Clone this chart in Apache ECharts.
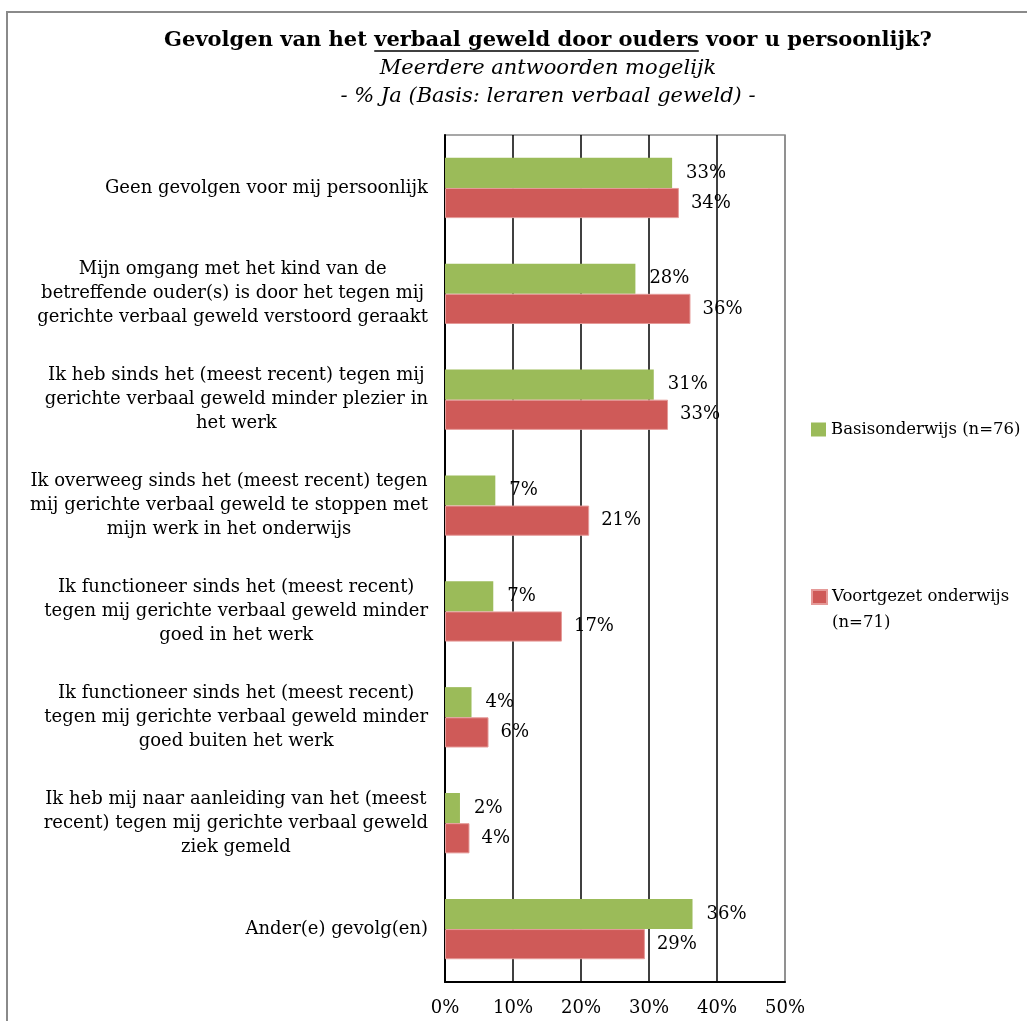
<!DOCTYPE html>
<html>
<head>
<meta charset="utf-8">
<script src="https://cdn.jsdelivr.net/npm/echarts@6/dist/echarts.min.js"></script>
<style>
html,body{margin:0;padding:0;background:#fff;}
#chart{width:1027px;height:1021px;}
</style>
</head>
<body>
<div id="chart"></div>
<script>
// ---- data ----
const categories = [
  'Geen gevolgen voor mij persoonlijk',
  'Mijn omgang met het kind van de\nbetreffende ouder(s) is door het tegen mij\ngerichte verbaal geweld verstoord geraakt',
  'Ik heb sinds het (meest recent) tegen mij\ngerichte verbaal geweld minder plezier in\nhet werk',
  'Ik overweeg sinds het (meest recent) tegen\nmij gerichte verbaal geweld te stoppen met\nmijn werk in het onderwijs',
  'Ik functioneer sinds het (meest recent)\ntegen mij gerichte verbaal geweld minder\ngoed in het werk',
  'Ik functioneer sinds het (meest recent)\ntegen mij gerichte verbaal geweld minder\ngoed buiten het werk',
  'Ik heb mij naar aanleiding van het (meest\nrecent) tegen mij gerichte verbaal geweld\nziek gemeld',
  'Ander(e) gevolg(en)'
];
const seriesNames = ['Basisonderwijs (n=76)', 'Voortgezet onderwijs (n=71)'];
const basisValues = [33.4, 28.0, 30.7, 7.4, 7.1, 3.9, 2.2, 36.4];
const voortgezetValues = [34.4, 36.1, 32.8, 21.2, 17.2, 6.4, 3.6, 29.4];
const xTicks = [0, 10, 20, 30, 40, 50];

const titleMain = 'Gevolgen van het verbaal geweld door ouders voor u persoonlijk?';
const titleUnderlined = 'verbaal geweld door ouders';
const subTitle = 'Meerdere antwoorden mogelijk\n- % Ja (Basis: leraren verbaal geweld) -';

// ---- chart ----
const FONT = '"DejaVu Serif", "Liberation Serif", serif';
const GREEN = '#9BBB59';
const RED = '#CF5A58';
const titleCenterX = 548;
const titleSize = 21;
const titlePad = 5;

const chart = echarts.init(document.getElementById('chart'));

// measure underline position
const ctx = document.createElement('canvas').getContext('2d');
ctx.font = 'bold ' + titleSize + 'px ' + FONT;
const fullW = ctx.measureText(titleMain).width;
const idx = titleMain.indexOf(titleUnderlined);
const preW = ctx.measureText(titleMain.slice(0, idx)).width;
const ulW = ctx.measureText(titleUnderlined).width;
const ulX1 = titleCenterX - fullW / 2 + preW;
const ulX2 = ulX1 + ulW;

const valueLabel = function (p) { return Math.round(p.value) + '%'; };

chart.setOption({
  backgroundColor: '#fff',
  animation: false,
  title: {
    text: titleMain,
    subtext: subTitle,
    left: titleCenterX - titlePad,
    textAlign: 'center',
    top: 25,
    itemGap: 4,
    textStyle: {fontFamily: FONT, fontWeight: 'bold', fontSize: titleSize, color: '#000'},
    subtextStyle: {fontFamily: FONT, fontStyle: 'italic', fontSize: 21, color: '#000', lineHeight: 28}
  },
  graphic: [
    {type: 'rect', shape: {x: 7, y: 12, width: 1100, height: 1100}, style: {fill: 'none', stroke: '#8a8a8a', lineWidth: 2}, silent: true},
    {type: 'line', shape: {x1: ulX1, y1: 51, x2: ulX2, y2: 51}, style: {stroke: '#000', lineWidth: 1.5}, silent: true}
  ],
  legend: [
    {
      data: [seriesNames[0]],
      orient: 'vertical',
      left: 806, top: 416,
      itemWidth: 15, itemHeight: 14,
      icon: 'rect',
      textStyle: {fontFamily: FONT, fontSize: 16.5, color: '#000'}
    },
    {
      data: [seriesNames[1]],
      orient: 'vertical',
      left: 806, top: 553,
      itemWidth: 15, itemHeight: 14,
      icon: 'rect',
      formatter: function (n) { return '\n' + n.replace(' (', '\n('); },
      textStyle: {fontFamily: FONT, fontSize: 16.5, color: '#000', lineHeight: 26}
    }
  ],
  grid: {
    left: 445, right: 242, top: 135, bottom: 39,
    show: true, borderColor: '#8a8a8a', borderWidth: 1.5, containLabel: false
  },
  xAxis: {
    type: 'value', min: xTicks[0], max: xTicks[xTicks.length - 1], interval: 10,
    axisLine: {show: true, lineStyle: {color: '#000', width: 2}},
    axisTick: {show: false},
    splitLine: {show: true, lineStyle: {color: ['#000', '#000', '#000', '#000', '#000', '#8a8a8a'], width: 1.5}},
    axisLabel: {formatter: '{value}%', fontFamily: FONT, fontSize: 18, color: '#000', margin: 17}
  },
  yAxis: {
    type: 'category', data: categories, inverse: true,
    axisLine: {show: true, lineStyle: {color: '#000', width: 2}},
    axisTick: {show: false},
    axisLabel: {
      margin: 17, fontFamily: FONT, fontSize: 18, color: '#000', lineHeight: 24,
      formatter: function (v) { return v.split('\n').map(function (l) { return '{c|' + l + '}'; }).join('\n'); },
      rich: {c: {align: 'center', fontFamily: FONT, fontSize: 18, color: '#000', lineHeight: 24}}
    }
  },
  series: [
    {
      name: seriesNames[0], type: 'bar', data: basisValues,
      itemStyle: {color: GREEN}, barGap: '0%', barCategoryGap: '43%',
      label: {show: true, position: 'right', distance: 14, formatter: valueLabel, fontFamily: FONT, fontSize: 18, color: '#000'}
    },
    {
      name: seriesNames[1], type: 'bar', data: voortgezetValues,
      itemStyle: {color: RED, borderColor: '#E59A98', borderWidth: 1}, barGap: '0%', barCategoryGap: '43%',
      label: {show: true, position: 'right', distance: 12, formatter: valueLabel, fontFamily: FONT, fontSize: 18, color: '#000'}
    }
  ]
});
</script>
</body>
</html>
